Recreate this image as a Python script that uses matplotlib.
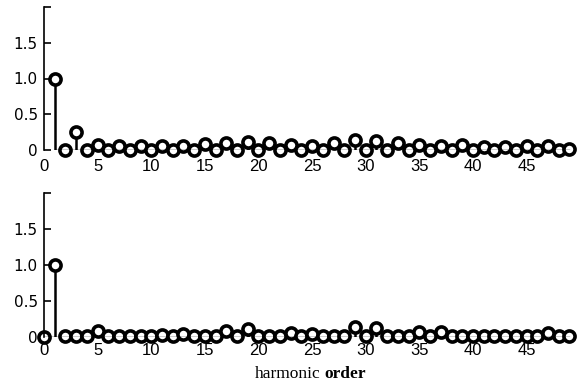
import matplotlib
matplotlib.use("Agg")
import matplotlib.pyplot as plt
import numpy as np

# Data
top_orders = list(range(1, 50))
top_values = [1.00, 0.00, 0.25, 0.00, 0.07, 0.00, 0.05, 0.00, 0.05, 0.00,
              0.05, 0.00, 0.06, 0.00, 0.08, 0.00, 0.10, 0.00, 0.11, 0.00,
              0.10, 0.00, 0.07, 0.00, 0.06, 0.00, 0.10, 0.00, 0.14, 0.00,
              0.12, 0.00, 0.10, 0.00, 0.07, 0.00, 0.06, 0.00, 0.07, 0.00,
              0.04, 0.00, 0.04, 0.00, 0.06, 0.00, 0.06, 0.00, 0.02]

bot_orders = list(range(0, 50))
bot_values = [0.00, 1.00, 0.02, 0.02, 0.02, 0.08, 0.02, 0.02, 0.02, 0.02,
              0.02, 0.03, 0.02, 0.04, 0.02, 0.02, 0.02, 0.08, 0.02, 0.11,
              0.02, 0.02, 0.02, 0.05, 0.02, 0.04, 0.02, 0.02, 0.02, 0.14,
              0.02, 0.13, 0.02, 0.02, 0.02, 0.07, 0.02, 0.07, 0.02, 0.02,
              0.02, 0.02, 0.02, 0.02, 0.02, 0.02, 0.02, 0.05, 0.02, 0.02]

xticks = [0, 5, 10, 15, 20, 25, 30, 35, 40, 45]
yticks = [0, 0.5, 1.0, 1.5, 2.0]
ytick_labels = ["0", "0.5", "1.0", "1.5", ""]

plt.rcParams['font.family'] = ['Liberation Sans', 'DejaVu Sans']

W, H = 577, 386
fig = plt.figure(figsize=(W / 100, H / 100), dpi=100)

def fx(px):
    return px / W

def fy(py):
    return 1 - py / H

left = fx(44)
ax1 = fig.add_axes([left, fy(150), 1 - left, fy(7) - fy(150)])
ax2 = fig.add_axes([left, fy(337), 1 - left, fy(193) - fy(337)])

for ax, xs, ys, xpad in ((ax1, top_orders, top_values, 6.5), (ax2, bot_orders, bot_values, 4.0)):
    ml, sl, bl = ax.stem(xs, ys, linefmt='k-', markerfmt='ko', basefmt='k-')
    plt.setp(sl, linewidth=1.8)
    plt.setp(bl, linewidth=1.0)
    ml.set_markerfacecolor('white')
    ml.set_markeredgecolor('black')
    ml.set_markersize(8)
    ml.set_markeredgewidth(2.6)
    ml.set_clip_on(False)
    ax.set_xlim(0.2, 49.7)
    ax.set_ylim(0, 2.0)
    for s in ('top', 'right', 'bottom'):
        ax.spines[s].set_visible(False)
    ax.spines['left'].set_linewidth(1.2)
    ax.set_xticks(xticks)
    ax.set_xticklabels([str(t) for t in xticks], fontsize=12)
    ax.set_yticks(yticks)
    ax.set_yticklabels(ytick_labels, family='DejaVu Sans', fontsize=11)
    ax.tick_params(axis='x', length=0, pad=xpad)
    ax.tick_params(axis='y', direction='in', length=5, width=1.2, pad=4.5)

fig.text(fx(320), fy(374), "harmonic", family='Liberation Serif', fontsize=12.5,
         ha='right', va='center')
fig.text(fx(324), fy(374), "order", family='Liberation Serif', fontsize=12.5,
         fontweight='bold', ha='left', va='center')

fig.savefig("out.png", dpi=100)
